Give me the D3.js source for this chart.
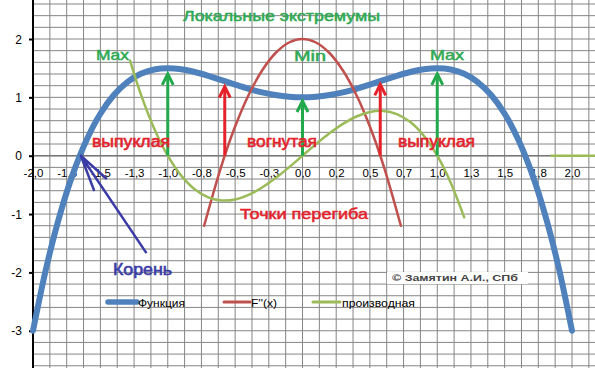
<!DOCTYPE html>
<html><head><meta charset="utf-8">
<script src="https://cdn.jsdelivr.net/npm/d3@7"></script>
<style>html,body{margin:0;padding:0;background:#fff;}svg{display:block;}</style>
</head><body>
<svg id="c" width="595" height="368"></svg>
<script>
// ---- data ----
const xTickValues = [-2,-1.75,-1.5,-1.25,-1,-0.75,-0.5,-0.25,0,0.25,0.5,0.75,1,1.25,1.5,1.75,2];
const xTickLabels = ["-2,0","-1,8","-1,5","-1,3","-1,0","-0,8","-0,5","-0,3","0,0","0,2","0,5","0,7","1,0","1,3","1,5","1,8","2,0"];
const yTickValues = [-3,-2,-1,0,1,2];

const funcX = [-2,-1.9,-1.8,-1.7,-1.6,-1.5,-1.4,-1.3,-1.2,-1.1,-1,-0.9,-0.8,-0.7,-0.6,-0.5,-0.4,-0.3,-0.2,-0.1,0,0.1,0.2,0.3,0.4,0.5,0.6,0.7,0.8,0.9,1,1.1,1.2,1.3,1.4,1.5,1.6,1.7,1.8,1.9,2];
const funcY = [-3,-1.906,-1.009,-0.286,0.283,0.719,1.039,1.262,1.403,1.478,1.5,1.482,1.435,1.37,1.295,1.219,1.147,1.086,1.039,1.01,1,1.01,1.039,1.086,1.147,1.219,1.295,1.37,1.435,1.482,1.5,1.478,1.403,1.262,1.039,0.719,0.283,-0.286,-1.009,-1.906,-3];

const f2X = [-0.73,-0.6,-0.5,-0.4,-0.3,-0.2,-0.1,0,0.1,0.2,0.3,0.4,0.5,0.6,0.73];
const f2Y = [-1.2,-0.16,0.5,1.04,1.46,1.76,1.94,2,1.94,1.76,1.46,1.04,0.5,-0.16,-1.2];

const derivX = [-1.28,-1.2,-1.1,-1,-0.9,-0.8,-0.7,-0.6,-0.5,-0.4,-0.3,-0.2,-0.1,0,0.1,0.2,0.3,0.4,0.5,0.6,0.7,0.8,0.9,1,1.1,1.2];
const derivY = [1.63,1.056,0.462,0,-0.342,-0.576,-0.714,-0.768,-0.75,-0.672,-0.546,-0.384,-0.198,0,0.198,0.384,0.546,0.672,0.75,0.768,0.714,0.576,0.342,0,-0.462,-1.056];
const zeroX = [1.84,2.3];
const zeroY = [0,0];

const seriesNames = ["Функция","F''(x)","производная"];
const extremaX = [-1,0,1];
const extremaTip = [1.42,0.955,1.42];
const inflX = [-0.577,0.577];
const inflTip = [1.2,1.24];

// ---- chart ----
const svg = d3.select("#c");
const W = 595, H = 368;
const x = d3.scaleLinear().domain([-2,2]).range([33,572]);
const y = d3.scaleLinear().domain([0,2]).range([155.7,39]);

const BLUE="#4f81bd", RED="#c0504d", GREEN="#9bbb59";
const AGREEN="#22a94b", ARED="#e52229", ABLUE="#3b3ca6";
const TGREEN="#2fa952", TRED="#e3232c";

// grid
const vgrid = d3.range(-2, 2.3, 0.125);
svg.append("g").selectAll("line").data(vgrid).join("line")
  .attr("x1",d=>x(d)).attr("x2",d=>x(d)).attr("y1",0).attr("y2",H)
  .attr("stroke","#858585").attr("stroke-width",1);
const hgrid = d3.range(-3.8, 2.81, 0.2);
svg.append("g").selectAll("line").data(hgrid).join("line")
  .attr("x1",x(-2)).attr("x2",W).attr("y1",d=>y(d)).attr("y2",d=>y(d))
  .attr("stroke","#858585").attr("stroke-width",1);

// x axis line at 0
svg.append("line").attr("x1",x(-2)).attr("x2",W).attr("y1",y(0)).attr("y2",y(0))
  .attr("stroke","#777").attr("stroke-width",1.6);

// y axis
const yAxis = d3.axisLeft(y).tickValues(yTickValues).tickSize(4).tickFormat(d=>String(d));
const ga = svg.append("g").attr("transform",`translate(${x(-2)},0)`).call(yAxis);
ga.select(".domain").remove();
ga.selectAll(".tick line").attr("stroke","#000").attr("stroke-width",2);
ga.selectAll(".tick text").attr("font-family","Liberation Sans, Arial, sans-serif").attr("font-size",12).attr("fill","#000").attr("x",-11).attr("dy","0.35em");
svg.append("line").attr("x1",x(-2)).attr("x2",x(-2)).attr("y1",0).attr("y2",H)
  .attr("stroke","#000").attr("stroke-width",2);

// x tick labels
const xAxis = d3.axisBottom(x).tickValues(xTickValues).tickSize(0).tickFormat((d,i)=>xTickLabels[i]);
const gx = svg.append("g").attr("transform",`translate(0,${y(0)})`).call(xAxis);
gx.select(".domain").remove();
gx.selectAll(".tick text").attr("font-family","Liberation Sans, Arial, sans-serif").attr("font-size",11.5).attr("fill","#000").attr("y",13).attr("dy","0.71em");

// series
const line = d3.line().x(d=>x(d[0])).y(d=>y(d[1])).curve(d3.curveCatmullRom.alpha(0.5));
const z = (a,b)=>a.map((v,i)=>[v,b[i]]);
svg.append("path").datum(z(funcX,funcY)).attr("d",line).attr("fill","none").attr("stroke",BLUE).attr("stroke-width",6).attr("stroke-linecap","round");
svg.append("path").datum(z(f2X,f2Y)).attr("d",line).attr("fill","none").attr("stroke",RED).attr("stroke-width",2.5).attr("stroke-linecap","round");
svg.append("path").datum(z(derivX,derivY)).attr("d",line).attr("fill","none").attr("stroke",GREEN).attr("stroke-width",2.5).attr("stroke-linecap","round");
svg.append("path").datum(z(zeroX,zeroY)).attr("d",d3.line().x(d=>x(d[0])).y(d=>y(d[1]))).attr("fill","none").attr("stroke",GREEN).attr("stroke-width",2.5);

// arrows
function upArrow(xv, tip, color){
  const px = x(xv), top = y(tip), base = y(0);
  svg.append("line").attr("x1",px).attr("x2",px).attr("y1",base).attr("y2",top+2)
    .attr("stroke",color).attr("stroke-width",3);
  svg.append("path").attr("d",`M${px-5.5},${top+12}L${px},${top+1}L${px+5.5},${top+12}`)
    .attr("fill","none").attr("stroke",color).attr("stroke-width",3).attr("stroke-linejoin","miter");
}
extremaX.forEach((v,i)=>upArrow(v,extremaTip[i],AGREEN));
inflX.forEach((v,i)=>upArrow(v,inflTip[i],ARED));

// root arrow (Корень)
const rootX = -1.645, rootY = 0;
const tail = [-1.158,-1.67], barb1=[-1.452,-0.40], barb2=[-1.545,-0.605];
svg.append("path").attr("d",
  `M${x(tail[0])},${y(tail[1])}L${x(rootX)},${y(rootY)}M${x(barb1[0])},${y(barb1[1])}L${x(rootX)},${y(rootY)}L${x(barb2[0])},${y(barb2[1])}`)
  .attr("fill","none").attr("stroke",ABLUE).attr("stroke-width",2.5).attr("stroke-linejoin","round");

// annotations
const FF = "Liberation Sans, Arial, sans-serif";
function label(t, x0, x1, baseline, size, color, weight, sw){
  svg.append("text").attr("x",x0).attr("y",baseline).text(t)
    .attr("font-family",FF).attr("font-size",size).attr("fill",color)
    .attr("font-weight",weight||"normal")
    .attr("stroke",sw?color:"none").attr("stroke-width",sw||0)
    .attr("textLength",x1-x0).attr("lengthAdjust","spacingAndGlyphs");
}
label("Локальные экстремумы",183,380,20.7,15,TGREEN,"normal",0.5);
label("Max",96,129,60,15,TGREEN,"normal",0.5);
label("Min",294,326,60.5,15,TGREEN,"normal",0.5);
label("Max",430,464,60,15,TGREEN,"normal",0.5);
label("выпуклая",92,170,147,16,TRED,"normal",0.6);
label("вогнутая",247,317,147,16,TRED,"normal",0.6);
label("выпуклая",398,475,147,16,TRED,"normal",0.6);
label("Точки перегиба",240,368,219,15,TRED,"normal",0.5);
label("Корень",113,172,275,16,ABLUE,"normal",0.6);

// legend
const legend = [
  {name:seriesNames[0], color:BLUE, w:5.5, x0:108, x1:137, tx0:138, tx1:185},
  {name:seriesNames[1], color:RED, w:3, x0:224, x1:250, tx0:251, tx1:277},
  {name:seriesNames[2], color:GREEN, w:3, x0:313, x1:340, tx0:342, tx1:415}
];
legend.forEach(l=>{
  svg.append("line").attr("x1",l.x0).attr("x2",l.x1).attr("y1",302).attr("y2",302)
    .attr("stroke",l.color).attr("stroke-width",l.w).attr("stroke-linecap","round");
  label(l.name,l.tx0,l.tx1,306.5,11.5,"#000");
});

// copyright box
svg.append("rect").attr("x",387).attr("y",272).attr("width",141).attr("height",12).attr("fill","#fff");
label("© Замятин А.И., СПб",392,518,281,9.5,"#444","bold");
</script>
</body></html>
